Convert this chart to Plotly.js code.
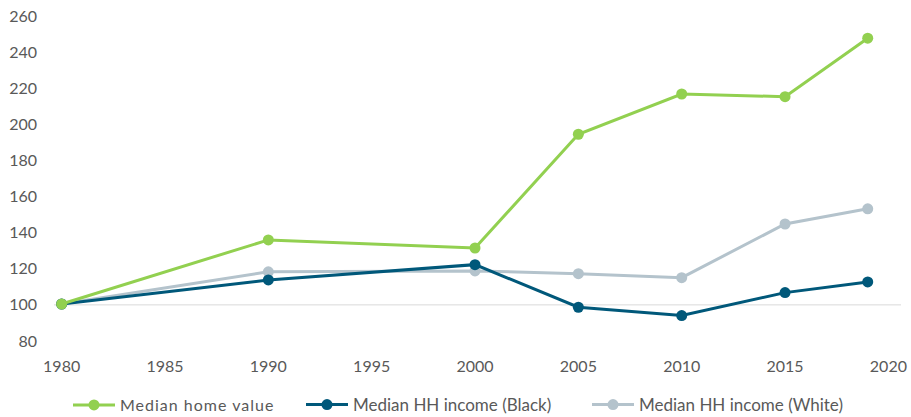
<!DOCTYPE html>
<html>
<head>
<meta charset="utf-8">
<script src="https://cdn.plot.ly/plotly-3.0.1.min.js"></script>
<style>html,body{margin:0;padding:0;background:#fff;}#chart{width:911px;height:417px;}
.legendtext{letter-spacing:1px;}
</style>
</head>
<body>
<div id="chart"></div>
<script>
const years = [1980, 1990, 2000, 2005, 2010, 2015, 2019];
const homeValue = [100.5, 136, 131.5, 194.5, 216.8, 215.3, 247.7];
const incomeBlack = [100.5, 113.8, 122.3, 98.7, 94.1, 106.8, 112.7];
const incomeWhite = [100.5, 118.3, 118.8, 117.3, 115.1, 144.8, 153.2];
const names = ['Median home value', 'Median HH income (Black)', 'Median HH income (White)'];
const colors = ['#92D050', '#00587A', '#B4C3CC'];
const series = [homeValue, incomeBlack, incomeWhite];
const yTicks = [80, 100, 120, 140, 160, 180, 200, 220, 240, 260];
const xTicks = [1980, 1985, 1990, 1995, 2000, 2005, 2010, 2015, 2020];

const legendIds = ['legend', 'legend2', 'legend3'];
const traces = series.map((s, i) => ({
  x: years, y: s, name: names[i], type: 'scatter', mode: 'lines+markers',
  line: {color: colors[i], width: 3},
  marker: {color: colors[i], size: 11},
  legend: legendIds[i]
}));
// draw order: white first, then black, then green on top
const ordered = [traces[2], traces[1], traces[0]];

const font = {family: 'Lato, "Open Sans", sans-serif', size: 16, color: '#595959'};
const legendX = [68, 301, 587];
const legendSize = [16, 17, 17];
const layout = {
  width: 911, height: 417,
  margin: {l: 54, r: 10, t: 16, b: 76},
  paper_bgcolor: '#fff', plot_bgcolor: '#fff',
  font: font,
  showlegend: true,
  xaxis: {
    range: [1979.63, 2020.61], tickmode: 'array', tickvals: xTicks, ticktext: xTicks.map(String),
    showgrid: false, zeroline: false, showline: false, ticks: '',
    ticklabelstandoff: 14, tickfont: font, fixedrange: true
  },
  yaxis: {
    range: [80, 260], tickmode: 'array', tickvals: yTicks, ticktext: yTicks.map(String),
    showgrid: false, zeroline: false, showline: false, ticks: '',
    ticklabelstandoff: 16, tickfont: font, fixedrange: true
  },
  shapes: [{
    type: 'line', xref: 'paper', x0: 0, x1: 1, yref: 'y', y0: 100, y1: 100,
    line: {color: '#D9D9D9', width: 1}, layer: 'below'
  }]
};
legendIds.forEach((id, i) => {
  layout[id] = {
    orientation: 'h', xref: 'container', yref: 'container',
    x: legendX[i] / 911, xanchor: 'left', y: (417 - 405) / 417, yanchor: 'middle',
    font: Object.assign({}, font, {size: legendSize[i]}), bgcolor: 'rgba(0,0,0,0)', itemwidth: 42
  };
});

Plotly.newPlot('chart', ordered, layout, {displayModeBar: false, staticPlot: true});
</script>
</body>
</html>
